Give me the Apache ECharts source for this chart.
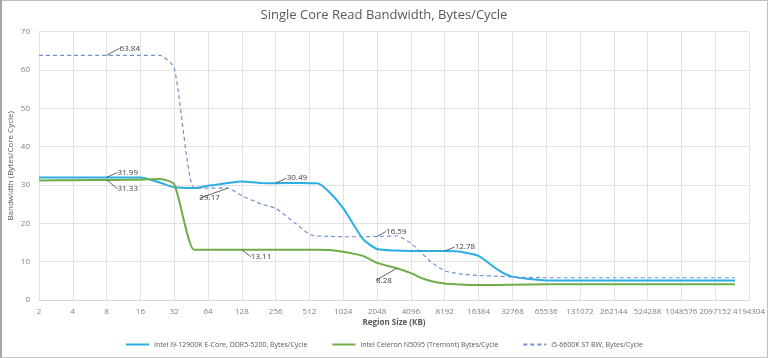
<!DOCTYPE html>
<html><head><meta charset="utf-8">
<script src="https://cdn.jsdelivr.net/npm/echarts@6/dist/echarts.min.js"></script>
<style>html,body{margin:0;padding:0;background:#fff}#c{width:768px;height:358px}</style>
</head><body><div id="c"></div>
<script>
const sizesKB = [2,4,8,12,16,24,32,48,64,96,128,192,256,384,512,600,768,1024,1536,2048,3072,4096,5120,6144,8192,10240,12288,16384,24576,32768,65536,98304,131072,262144,393216,524288,1048576,1572864,2097152,3145728];
const e12900k = [31.99,31.99,31.99,31.99,31.99,30.6,29.4,29.2,29.8,30.5,30.9,30.5,30.49,30.5,30.49,30.49,28.2,23.9,15.9,13.3,12.9,12.8,12.78,12.78,12.78,12.7,12.4,11.5,7.8,6.1,5.1,5.1,5.1,5.1,5.1,5.1,5.1,5.1,5.1,5.1];
const n5095 = [31.2,31.25,31.33,31.35,31.4,31.6,30.2,13.11,13.11,13.11,13.11,13.11,13.11,13.11,13.11,13.11,13.05,12.6,11.5,9.7,8.28,7.0,5.7,4.96,4.3,4.1,4.0,3.9,3.9,4.0,4.1,4.1,4.1,4.1,4.1,4.1,4.1,4.1,4.1,4.1];
const i6600k = [63.84,63.84,63.84,63.84,63.84,63.8,60.5,29.2,29.2,29.17,27.2,25.0,23.9,20.0,17.1,16.7,16.6,16.5,16.5,16.59,16.7,14.8,12.2,10.0,7.6,7.0,6.7,6.4,6.2,6.0,5.8,5.8,5.8,5.8,5.8,5.8,5.8,5.8,5.8,5.8];
const xTickLabels = ['2','4','8','16','32','64','128','256','512','1024','2048','4096','8192','16384','32768','65536','131072','262144','524288','1048576','2097152','4194304'];
const seriesNames = ['Intel i9-12900K E-Core, DDR5-5200, Bytes/Cycle','Intel Celeron N5095 (Tremont) Bytes/Cycle','i5-6600K ST BW, Bytes/Cycle'];
// labelled points: [series, sizeKB, dx, dy, position]
const callouts = [
  [0, 8, 6, -5, 'right'],
  [1, 8, 6, 9, 'right'],
  [2, 8, 8, -7, 'right'],
  [2, 96, -3, 10, 'left'],
  [1, 128, 4, 7, 'right'],
  [0, 256, 6, -5, 'right'],
  [2, 2048, 4, -5, 'right'],
  [0, 8192, 5, -4, 'right'],
  [1, 3072, -13, 3, 'bottom']
];
// x positions are log2 of the region size (axis labels show the sizes)
function build(si, vals){
  return sizesKB.map((s,i)=>{
    const c = callouts.find(c=>c[0]===si && c[1]===s);
    const v = [Math.log2(s), vals[i]];
    if(c) return {value:v, label:{show:true, position:c[4]}};
    return v;
  });
}
function layoutFor(si){
  return function(p){
    const s = sizesKB[p.dataIndex];
    const c = callouts.find(c=>c[0]===si && c[1]===s);
    if(!c) return {};
    return {dx:c[2], dy:c[3]};
  };
}
const chart = echarts.init(document.getElementById('c'), null, {renderer:'canvas'});
const colors = ['#2AAEE3','#70AD47','#7391CF'];
const vals = [e12900k, n5095, i6600k];
chart.setOption({
  animation:false,
  textStyle:{fontFamily:'Open Sans'},
  title:{text:'Single Core Read Bandwidth, Bytes/Cycle', left:'center', top:4,
    textStyle:{fontSize:13, fontWeight:'normal', color:'#595959', fontFamily:'Open Sans'}},
  graphic:[{type:'rect', shape:{x:0.5,y:0.5,width:767,height:357}, style:{fill:'none', stroke:'#bfbfbf', lineWidth:1}, silent:true},
           {type:'rect', shape:{x:0,y:0,width:2,height:358}, style:{fill:'#a6a6a6'}, silent:true}],
  grid:{left:39, right:19, top:31.7, bottom:58, outerBoundsMode:'none', containLabel:false},
  legend:{bottom:5, left:'center', itemGap:24, itemWidth:23, itemHeight:8,
    itemStyle:{opacity:0},
    textStyle:{fontSize:7, color:'#595959'},
    data:seriesNames},
  xAxis:{type:'value', min:1, max:22, interval:1,
    name:'Region Size (KB)', nameLocation:'middle', nameGap:19, nameMoveOverlap:false,
    nameTextStyle:{fontSize:8, color:'#595959', fontWeight:'bold'},
    axisLine:{show:true, lineStyle:{color:'#d9d9d9'}}, axisTick:{show:false},
    axisLabel:{fontSize:8, color:'#7f7f7f', formatter:v=>xTickLabels[Math.round(v)-1] || '', showMaxLabel:true, showMinLabel:true, hideOverlap:false},
    splitLine:{show:true, lineStyle:{color:'#e3e3e3'}}},
  yAxis:{type:'value', min:0, max:70, interval:10,
    name:'Bandwidth (Bytes/Core Cycle)', nameLocation:'middle', nameGap:24, nameRotate:90, nameMoveOverlap:false,
    nameTextStyle:{fontSize:8, color:'#595959'},
    axisLine:{show:false}, axisTick:{show:false},
    axisLabel:{fontSize:8, color:'#7f7f7f', margin:9},
    splitLine:{lineStyle:{color:'#e3e3e3'}}},
  series:vals.map((v,i)=>({
    name:seriesNames[i], type:'line', data:build(i,v), symbol:'circle', symbolSize:0, showSymbol:true, smooth:0.2,
    lineStyle:{color:colors[i], width: i===2?1.2:2, type: i===2?[4,3]:'solid'},
    itemStyle:{color:colors[i]},
    label:{show:false, color:'#404040', fontSize:8, formatter:p=>p.value[1].toFixed(2)},
    labelLine:{show:true, lineStyle:{color:'#404040', width:0.8}},
    labelLayout:layoutFor(i),
    z: i===2?3:2
  }))
});
</script></body></html>
